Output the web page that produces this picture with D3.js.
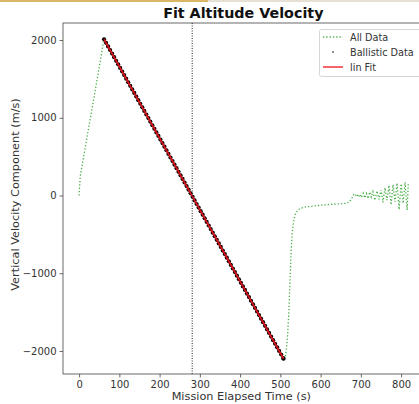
<!DOCTYPE html>
<html><head><meta charset="utf-8">
<script src="https://cdn.jsdelivr.net/npm/d3@7"></script>
<style>body{margin:0;background:#fff;} svg{display:block;font-family:"DejaVu Sans",sans-serif;}</style>
</head><body>
<script>
// ---- data ----
const title = "Fit Altitude Velocity";
const xLabel = "Mission Elapsed Time (s)";
const yLabel = "Vertical Velocity Component (m/s)";
const xTicks = [0,100,200,300,400,500,600,700,800];
const yTicks = [-2000,-1000,0,1000,2000];
const legendLabels = ["All Data","Ballistic Data","lin Fit"];
const markerTime = 281;

const ascentT = [0,1,3,8,15,22,30,38,46,54,60];
const ascentV = [0,100,250,400,610,820,1050,1290,1530,1770,1960];

const ballisticT = [62,67,72,77,82,87,92,97,102,107,112,117,122,127,132,137,142,147,152,157,162,167,172,177,182,187,192,197,202,207,212,217,222,227,232,237,242,247,252,257,262,267,272,277,282,287,292,297,302,307,312,317,322,327,332,337,342,347,352,357,362,367,372,377,382,387,392,397,402,407,412,417,422,427,432,437,442,447,452,457,462,467,472,477,482,487,492,497,502,507,508];
const ballisticV = [2010,1964,1918,1872,1826,1779,1733,1687,1641,1595,1549,1503,1457,1411,1365,1319,1272,1226,1180,1134,1088,1042,996,950,904,858,812,766,720,674,628,582,535,489,443,397,351,305,259,213,167,121,75,29,-17,-63,-109,-155,-201,-247,-294,-340,-386,-432,-478,-524,-570,-616,-662,-708,-754,-800,-847,-893,-939,-985,-1031,-1077,-1123,-1169,-1215,-1261,-1307,-1354,-1400,-1446,-1492,-1538,-1584,-1630,-1676,-1722,-1768,-1814,-1861,-1907,-1953,-1999,-2045,-2091,-2100];

const descentT = [512,515,518,521,524,527,530,534,538,543,550,560,575,590,610,630,650,665,672,678,682,686,690,694,698,702,706,710,714,718,722,726,730,735,740,745,750,755,760,765,770,775,780,785,790,795,800,805,810,815,818];
const descentV = [-2080,-1980,-1800,-1500,-1100,-700,-450,-300,-230,-190,-165,-150,-140,-130,-120,-112,-105,-100,-80,-30,10,-10,20,-20,15,-25,30,-30,25,-40,45,-20,50,-60,60,-50,70,-90,100,-60,130,-120,140,-80,160,-180,150,-100,170,-190,160];

const fitT = [62,508];
const fitV = [2010,-2100];

// ---- build ----
const W = 419, H = 404;
const svg = d3.select("body").append("svg").attr("width",W).attr("height",H);

// top bar
svg.append("rect").attr("x",0).attr("y",0).attr("width",208).attr("height",2).attr("fill","#d9b765");
svg.append("rect").attr("x",208).attr("y",0).attr("width",W-208).attr("height",2).attr("fill","#e6e1d4");

const L = 63, T = 23, B = 374;
const x = d3.scaleLinear().domain([-40, 861]).range([L, L + 901*0.4025]);
const y = d3.scaleLinear().domain([-2296, 2219]).range([B, T]);
const R = x.range()[1];

svg.append("clipPath").attr("id","c").append("rect")
  .attr("x",L).attr("y",T).attr("width",R-L).attr("height",B-T);
const plot = svg.append("g").attr("clip-path","url(#c)");

const allT = ascentT.concat(ballisticT, descentT);
const allV = ascentV.concat(ballisticV, descentV);
const allData = allT.map((t,i)=>[t,allV[i]]);

const line = d3.line().x(d=>x(d[0])).y(d=>y(d[1]));

plot.append("path").datum(allData).attr("d",line)
  .attr("fill","none").attr("stroke","#2ca02c").attr("stroke-opacity",0.85)
  .attr("stroke-width",1.3).attr("stroke-dasharray","1.3,2");

plot.selectAll("circle.b").data(ballisticT.map((t,i)=>[t,ballisticV[i]])).enter()
  .append("circle").attr("class","b").attr("cx",d=>x(d[0])).attr("cy",d=>y(d[1]))
  .attr("r",2.1).attr("fill","#000");

plot.append("path").datum(fitT.map((t,i)=>[t,fitV[i]])).attr("d",line)
  .attr("fill","none").attr("stroke","#d8101a").attr("stroke-width",1.7);

plot.append("line").attr("x1",x(markerTime)).attr("x2",x(markerTime))
  .attr("y1",T).attr("y2",B).attr("stroke","#222").attr("stroke-width",1)
  .attr("stroke-dasharray","1,1.5");

// spines
svg.append("rect").attr("x",L).attr("y",T).attr("width",R-L).attr("height",B-T)
  .attr("fill","none").attr("stroke","#444").attr("stroke-width",0.8);

// axes
const xa = svg.append("g").attr("transform",`translate(0,${B})`)
  .call(d3.axisBottom(x).tickValues(xTicks).tickSize(3.5).tickPadding(3).tickFormat(d3.format("d")));
const ya = svg.append("g").attr("transform",`translate(${L},0)`)
  .call(d3.axisLeft(y).tickValues(yTicks).tickSize(3.5).tickPadding(3)
    .tickFormat(d=> d<0 ? "\u2212"+Math.abs(d) : String(d)));
[xa,ya].forEach(a=>{
  a.select(".domain").remove();
  a.selectAll("line").attr("stroke","#444").attr("stroke-width",0.8);
  a.selectAll("text").attr("fill","#333").style("font-size","10px").style("font-family","DejaVu Sans");
});

// labels
svg.append("text").attr("x",(L+R)/2 - 1).attr("y",18).attr("text-anchor","middle")
  .style("font-size","14.3px").style("font-weight","bold").attr("fill","#111").text(title);
svg.append("text").attr("x",(L+R)/2 - 3).attr("y",400).attr("text-anchor","middle")
  .style("font-size","11.3px").attr("fill","#333").text(xLabel);
svg.append("text").attr("transform",`translate(19,${(T+B)/2 - 4}) rotate(-90)`).attr("text-anchor","middle")
  .style("font-size","11.3px").attr("fill","#333").text(yLabel);

// legend
const lg = svg.append("g");
lg.append("rect").attr("x",319.5).attr("y",29.5).attr("width",110).attr("height",47).attr("rx",2)
  .attr("fill","#fff").attr("fill-opacity",0.8).attr("stroke","#ccc").attr("stroke-width",0.8);
const ly = [37,52,67];
lg.append("line").attr("x1",323).attr("x2",343).attr("y1",ly[0]).attr("y2",ly[0])
  .attr("stroke","#2ca02c").attr("stroke-opacity",0.85).attr("stroke-width",1.3).attr("stroke-dasharray","1.3,2");
lg.append("circle").attr("cx",333).attr("cy",ly[1]).attr("r",0.8).attr("fill","#000");
lg.append("line").attr("x1",323).attr("x2",343).attr("y1",ly[2]).attr("y2",ly[2])
  .attr("stroke","#f0303a").attr("stroke-width",1.5);
legendLabels.forEach((s,i)=>{
  lg.append("text").attr("x",350).attr("y",ly[i]+3.5).style("font-size","9.7px").attr("fill","#333").text(s);
});
</script>
</body></html>
